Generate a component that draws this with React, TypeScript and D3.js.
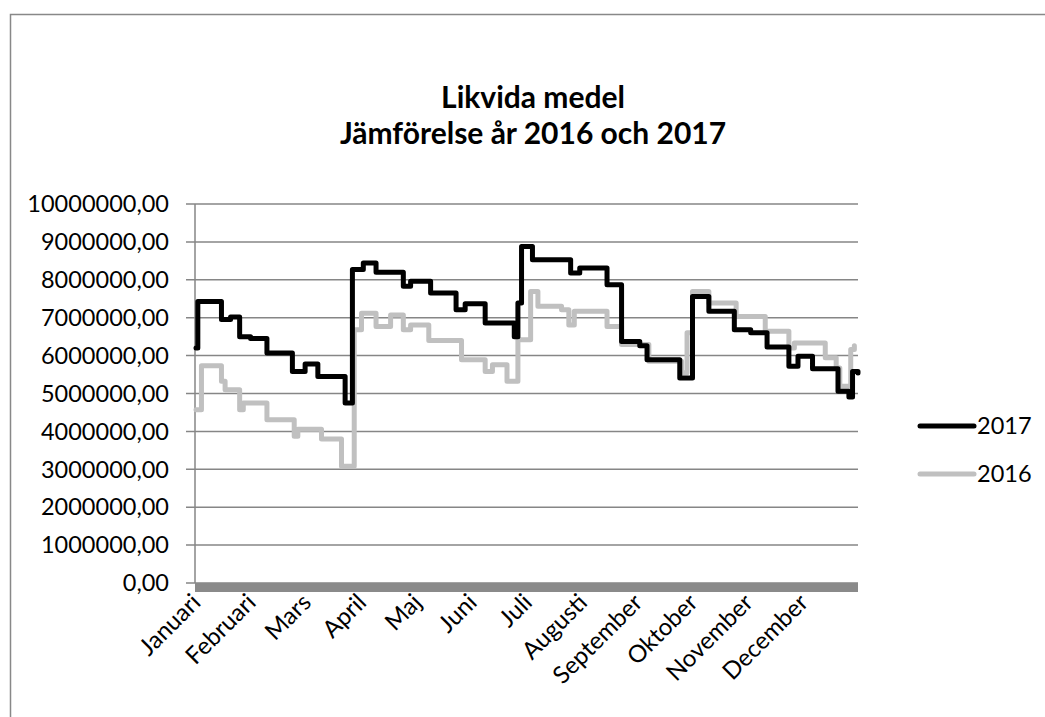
import React from 'react';
import * as d3 from 'd3';

// Swedish month labels on the category axis
const months = ['Januari', 'Februari', 'Mars', 'April', 'Maj', 'Juni', 'Juli', 'Augusti', 'September', 'Oktober', 'November', 'December'];

// 2017: day of year where the balance changes, and the new balance
const days2017 = [0, 1, 14, 19, 24, 30, 39, 53, 60, 67, 82, 86, 92, 99, 114, 118, 129, 143, 148, 159, 175, 177, 179, 185, 206, 211, 226, 234, 244, 248, 266, 273, 282, 296, 305, 314, 326, 331, 339, 353, 359, 361, 364];
const values2017 = [6200000, 7430000, 6950000, 7020000, 6500000, 6450000, 6070000, 5580000, 5780000, 5450000, 4750000, 8270000, 8440000, 8200000, 7830000, 7960000, 7650000, 7210000, 7370000, 6860000, 6500000, 7390000, 8880000, 8530000, 8180000, 8310000, 7870000, 6370000, 6260000, 5890000, 5410000, 7560000, 7170000, 6680000, 6600000, 6230000, 5720000, 5980000, 5650000, 5060000, 4910000, 5580000, 5540000];

// 2016
const days2016 = [0, 3, 14, 16, 24, 26, 39, 54, 56, 69, 80, 87, 91, 99, 107, 114, 118, 128, 146, 159, 163, 171, 177, 184, 188, 201, 205, 208, 226, 234, 249, 267, 270, 273, 282, 297, 313, 326, 329, 346, 352, 354, 360, 362];
const values2016 = [4570000, 5730000, 5320000, 5100000, 4570000, 4750000, 4310000, 3870000, 4060000, 3800000, 3080000, 6680000, 7120000, 6770000, 7070000, 6680000, 6810000, 6400000, 5890000, 5580000, 5760000, 5320000, 6420000, 7690000, 7300000, 7210000, 6810000, 7170000, 6770000, 6290000, 5850000, 5550000, 6600000, 7690000, 7390000, 7030000, 6640000, 6200000, 6330000, 5940000, 5670000, 5190000, 6160000, 6260000];

const yTicks = [0, 1000000, 2000000, 3000000, 4000000, 5000000, 6000000, 7000000, 8000000, 9000000, 10000000];

const W = 1045;
const H = 717;
const left = 195;
const right = 858;
const top = 204;
const bottom = 583;
const font = 'Lato, "Open Sans", sans-serif';

const App: React.FC = () => {
  const x = d3.scaleLinear().domain([0, 364]).range([left + 1, right]);
  const y = d3.scaleLinear().domain([0, 10000000]).range([bottom, top]);
  const xCat = d3.scaleBand<string>().domain(months).range([left, right]);

  const line = d3.line<[number, number]>()
    .x(d => x(d[0]))
    .y(d => y(d[1]))
    .curve(d3.curveStepAfter);

  const s2017 = days2017.map((d, i) => [d, values2017[i]] as [number, number]);
  const s2016 = days2016.map((d, i) => [d, values2016[i]] as [number, number]);

  const fmt = (v: number) => v.toFixed(2).replace('.', ',');

  return (
    <div style={{ position: 'fixed', left: 0, top: 0 }}>
      <svg width={W} height={H} style={{ display: 'block', background: '#fff' }} fontFamily={font}>
        {/* chart frame */}
        <rect x={10.5} y={14.5} width={W} height={H} fill="none" stroke="#888" strokeWidth={1.5} />

        {/* title */}
        <text x={533} y={108} textAnchor="middle" fontSize={30} fontWeight="bold" fill="#000">Likvida medel</text>
        <text x={533} y={144} textAnchor="middle" fontSize={30} fontWeight="bold" fill="#000">Jämförelse år 2016 och 2017</text>

        {/* gridlines + y labels */}
        {yTicks.map(t => (
          <g key={t}>
            <line x1={left - 9} x2={right} y1={y(t)} y2={y(t)} stroke="#868686" strokeWidth={1.5} />
            <text x={169} y={y(t)} dy="0.35em" textAnchor="end" fontSize={23.5} fill="#000">{fmt(t)}</text>
          </g>
        ))}
        <line x1={left} x2={left} y1={top} y2={bottom} stroke="#868686" strokeWidth={1.5} />

        {/* floor */}
        <rect x={left} y={bottom} width={right - left} height={9} fill="#8a8a8a" />

        {/* x labels */}
        {months.map(m => {
          const px = (xCat(m) as number) + 7;
          const py = 604;
          return (
            <text key={m} x={px} y={py} textAnchor="end" fontSize={24} fill="#000"
              transform={`rotate(-45 ${px} ${py})`}>{m}</text>
          );
        })}

        {/* series */}
        <path d={line(s2016) || ''} fill="none" stroke="#c0c0c0" strokeWidth={5} strokeLinejoin="round" strokeLinecap="round" />
        <path d={line(s2017) || ''} fill="none" stroke="#000" strokeWidth={5} strokeLinejoin="round" strokeLinecap="round" />

        {/* legend */}
        <line x1={920} x2={974} y1={426} y2={426} stroke="#000" strokeWidth={5} strokeLinecap="round" />
        <text x={977} y={426} dy="0.35em" fontSize={23.5} fill="#000">2017</text>
        <line x1={920} x2={974} y1={474} y2={474} stroke="#c0c0c0" strokeWidth={5} strokeLinecap="round" />
        <text x={977} y={474} dy="0.35em" fontSize={23.5} fill="#000">2016</text>
      </svg>
    </div>
  );
};

export default App;
